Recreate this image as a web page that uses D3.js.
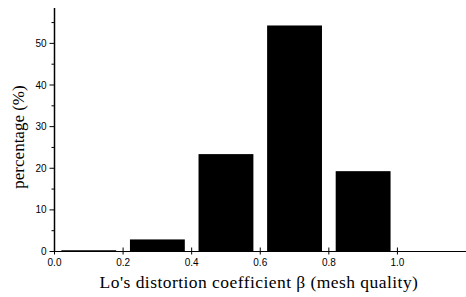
<!DOCTYPE html>
<html><head><meta charset="utf-8">
<script src="https://d3js.org/d3.v7.min.js"></script>
<style>body{margin:0;background:#fff}svg{display:block}</style>
</head><body>
<script>
const binStarts = [0.02, 0.22, 0.42, 0.62, 0.82];
const binEnds   = [0.18, 0.38, 0.58, 0.78, 0.98];
const percentages = [0.3, 2.9, 23.4, 54.3, 19.3];
const xTicks = [0.0, 0.2, 0.4, 0.6, 0.8, 1.0];
const yTicks = [0, 10, 20, 30, 40, 50];
const yMinorTicks = [5, 15, 25, 35, 45, 55];
const xLabel = "Lo's distortion coefficient \u03b2 (mesh quality)";
const yLabel = "percentage (%)";

const W = 466, H = 297;
const svg = d3.select("body").append("svg").attr("width", W).attr("height", H);
const x = d3.scaleLinear().domain([0, 1.2]).range([54.5, 466]);
const y = d3.scaleLinear().domain([0, 58.5]).range([251.5, 8]);

// bars
svg.append("g").selectAll("rect").data(percentages).join("rect")
  .attr("x", (d, i) => x(binStarts[i]))
  .attr("width", (d, i) => x(binEnds[i]) - x(binStarts[i]))
  .attr("y", d => y(d))
  .attr("height", d => Math.max(1, y(0) - y(d)))
  .attr("fill", "#000");

// x axis
const gx = svg.append("g").attr("transform", `translate(0,${y(0)})`);
gx.append("line").attr("x1", x(0)).attr("x2", x(1.2)).attr("stroke", "#000").attr("stroke-width", 1.2);
gx.selectAll(".tk").data(xTicks).join("line")
  .attr("x1", d => x(d)).attr("x2", d => x(d)).attr("y1", -4).attr("y2", 3)
  .attr("stroke", "#000").attr("stroke-width", 1);
gx.selectAll("text").data(xTicks).join("text")
  .attr("x", d => x(d)).attr("y", 14)
  .attr("text-anchor", "middle")
  .attr("font-family", "Liberation Sans, Arial, sans-serif").attr("font-size", 10)
  .text(d => d.toFixed(1));

// y axis
const gy = svg.append("g").attr("transform", `translate(${x(0)},0)`);
gy.append("line").attr("y1", y(0)).attr("y2", y(58.5)).attr("stroke", "#000").attr("stroke-width", 1.5);
gy.selectAll(".tk").data(yTicks).join("line")
  .attr("x1", -5).attr("x2", 0).attr("y1", d => y(d)).attr("y2", d => y(d))
  .attr("stroke", "#000").attr("stroke-width", 1);
gy.selectAll(".mtk").data(yMinorTicks).join("line")
  .attr("x1", -3).attr("x2", 0).attr("y1", d => y(d)).attr("y2", d => y(d))
  .attr("stroke", "#000").attr("stroke-width", 1);
gy.selectAll("text").data(yTicks).join("text")
  .attr("x", -8).attr("y", d => y(d)).attr("dy", "0.35em")
  .attr("text-anchor", "end")
  .attr("font-family", "Liberation Sans, Arial, sans-serif").attr("font-size", 10)
  .text(d => d);

// labels
svg.append("text").attr("x", 259).attr("y", 288)
  .attr("text-anchor", "middle")
  .attr("font-family", "Liberation Serif, Times New Roman, serif").attr("font-size", 17.5)
  .attr("letter-spacing", 0.45)
  .text(xLabel);
svg.append("text").attr("transform", "translate(24,137) rotate(-90)")
  .attr("text-anchor", "middle")
  .attr("font-family", "Liberation Serif, Times New Roman, serif").attr("font-size", 17)
  .text(yLabel);
</script>
</body></html>
